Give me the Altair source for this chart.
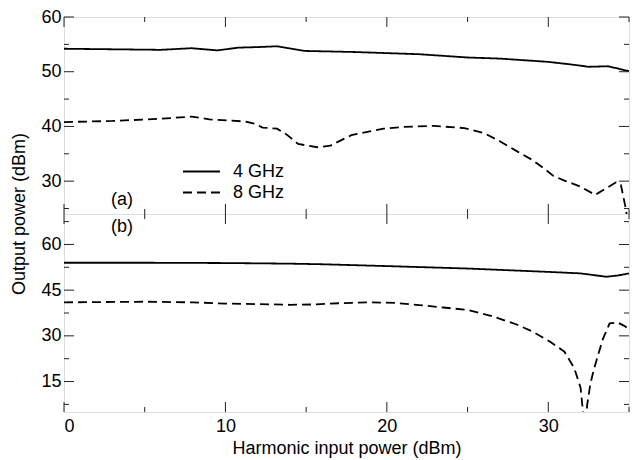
import altair as alt
import pandas as pd

# ---------------- data ----------------
a4_x = [0, 3, 6, 7.9, 9.5, 10.8, 12, 13.2, 14.9, 16.5, 18, 20, 22, 25, 27, 30, 31.5, 32.5, 33.7, 35]
a4_y = [54.2, 54.1, 54.0, 54.3, 53.9, 54.4, 54.5, 54.65, 53.8, 53.7, 53.6, 53.4, 53.2, 52.6, 52.4, 51.8, 51.3, 50.9, 51.0, 50.1]

a8_x = [0, 3, 6, 7.9, 9, 11.2, 11.8, 12.3, 13.2, 13.8, 14.5, 15.7, 16.5, 17.8, 19.8, 21, 22.9, 24.8, 26,
        27, 28.1, 29, 29.7, 30.3, 31, 32, 32.9, 33.6, 34.2, 34.5, 34.8, 34.95]
a8_y = [40.8, 41.0, 41.4, 41.8, 41.3, 40.9, 40.5, 39.8, 39.6, 38.5, 36.8, 36.2, 36.5, 38.4, 39.6, 39.9, 40.1, 39.7, 38.8,
        37.3, 35.4, 33.9, 32.4, 31.0, 30.1, 29.0, 27.5, 28.7, 29.8, 29.3, 25.0, 22.0]

b4_x = [0, 5, 10, 14, 16, 20, 25, 30, 32, 33.6, 34.3, 35]
b4_y = [54.0, 54.0, 53.9, 53.7, 53.5, 52.9, 52.1, 51.0, 50.5, 49.4, 49.8, 50.5]

b8_x = [0, 5, 8, 10, 12, 14, 15.5, 17, 19, 20.5, 22, 23.5, 25, 26.5, 28, 29, 30.1, 31.0, 31.6, 32.0, 32.15, 32.28,
        32.4, 32.6, 32.8, 33.1, 33.4, 33.8, 34.3, 34.8, 35]
b8_y = [41.0, 41.2, 41.0, 40.6, 40.4, 40.2, 40.3, 40.7, 41.0, 40.8, 40.1, 39.3, 38.5, 36.5, 33.8, 31.5, 28.1, 24.8, 19.5, 13.0, 5.0, -15.0,
        7.0, 14.0, 18.5, 24.0, 29.2, 34.1, 34.4, 33.0, 31.3]

series = ["4 GHz", "8 GHz"]

x_major = [0, 10, 20, 30]
x_minor = [5, 15, 25, 35]
ya_major = [30, 40, 50, 60]
ya_minor = [25, 35, 45, 55]
yb_major = [15, 30, 45, 60]
yb_minor = [7.5, 22.5, 37.5, 52.5, 67.5]

# ---------------- layout ----------------
W = 565
HA = 197
HB = 198
FONT = "Liberation Sans"
FRAME = "#222222"

xscale = alt.Scale(domain=[0, 35], nice=False, zero=False)
ya_scale = alt.Scale(domain=[24, 60], nice=False, zero=False)
yb_scale = alt.Scale(domain=[5, 70], nice=False, zero=False)

dash_scale = alt.Scale(domain=series, range=[[1, 0], [9, 5]])


def frame_df(xs, ys, s):
    return pd.DataFrame({"x": xs, "y": ys, "series": s, "order": range(len(xs))})


df_a = pd.concat([frame_df(a4_x, a4_y, series[0]), frame_df(a8_x, a8_y, series[1])])
df_b = pd.concat([frame_df(b4_x, b4_y, series[0]), frame_df(b8_x, b8_y, series[1])])


def yaxis(vals):
    return alt.Axis(values=vals, tickSize=0, domain=False, grid=False, labelFontSize=18, labelFont=FONT,
                    labelColor="black", labelPadding=3, title=None)


def xaxis_b():
    return alt.Axis(values=x_major, tickSize=0, domain=False, grid=False, labelFontSize=18,
                    labelFont=FONT, labelColor="black", labelPadding=5,
                    title="Harmonic input power (dBm)", titleFontSize=18, titleFont=FONT,
                    titleFontWeight="normal", titleColor="black", titlePadding=4)


def tick_layers(xax, yscale, yax, ymaj, ymin, H):
    layers = []
    for vals, L in ((x_major, 10), (x_minor, 5)):
        d = pd.DataFrame({"v": vals})
        base = alt.Chart(d).mark_rule(color=FRAME, strokeWidth=1)
        layers.append(base.encode(x=alt.X("v:Q", scale=xscale, axis=xax), y=alt.value(0), y2=alt.value(L)))
        layers.append(base.encode(x=alt.X("v:Q", scale=xscale, axis=xax), y=alt.value(H - L), y2=alt.value(H)))
    for vals, L in ((ymaj, 10), (ymin, 5)):
        d = pd.DataFrame({"v": vals})
        base = alt.Chart(d).mark_rule(color=FRAME, strokeWidth=1)
        layers.append(base.encode(y=alt.Y("v:Q", scale=yscale, axis=yax), x=alt.value(0), x2=alt.value(L)))
        layers.append(base.encode(y=alt.Y("v:Q", scale=yscale, axis=yax), x=alt.value(W - L), x2=alt.value(W)))
    return layers


# panel (a)
lines_a = alt.Chart(df_a).mark_line(color="black", strokeWidth=1.8, clip=True).encode(
    x=alt.X("x:Q", scale=xscale, axis=None),
    y=alt.Y("y:Q", scale=ya_scale, axis=yaxis(ya_major)),
    order="order:Q",
    strokeDash=alt.StrokeDash(
        "series:N", scale=dash_scale,
        legend=alt.Legend(orient="none", legendX=127, legendY=144, title=None,
                          symbolType="M-2,0L2,0", symbolSize=342, symbolStrokeWidth=2,
                          symbolStrokeColor="black", symbolFillColor="transparent",
                          labelFontSize=18, labelFont=FONT, labelColor="black", rowPadding=1,
                          labelOffset=21, padding=0),
    ),
)
label_a = alt.Chart(pd.DataFrame({"t": ["(a)"]})).mark_text(
    fontSize=18, font=FONT, color="black", align="center", baseline="middle"
).encode(text="t:N", x=alt.value(58), y=alt.value(183))

panel_a = alt.layer(lines_a, label_a, *tick_layers(None, ya_scale, yaxis(ya_major), ya_major, ya_minor, HA)).properties(
    width=W, height=HA
)

# panel (b)
lines_b = alt.Chart(df_b).mark_line(color="black", strokeWidth=1.8, clip=True).encode(
    x=alt.X("x:Q", scale=xscale, axis=xaxis_b()),
    y=alt.Y("y:Q", scale=yb_scale, axis=yaxis(yb_major)),
    order="order:Q",
    strokeDash=alt.StrokeDash("series:N", scale=dash_scale, legend=None),
)
label_b = alt.Chart(pd.DataFrame({"t": ["(b)"]})).mark_text(
    fontSize=18, font=FONT, color="black", align="center", baseline="middle"
).encode(text="t:N", x=alt.value(58), y=alt.value(13))
ytitle = alt.Chart(pd.DataFrame({"t": ["Output power (dBm)"]})).mark_text(
    fontSize=18, font=FONT, color="black", align="center", baseline="alphabetic", angle=270
).encode(text="t:N", x=alt.value(-39.5), y=alt.value(0))

panel_b = alt.layer(lines_b, label_b, ytitle,
                    *tick_layers(xaxis_b(), yb_scale, yaxis(yb_major), yb_major, yb_minor, HB)).properties(
    width=W, height=HB
)

chart = alt.vconcat(panel_a, panel_b, spacing=0, bounds="flush").properties(
    padding={"left": 1, "top": -1, "right": 1, "bottom": 5},
).configure_view(stroke=FRAME, strokeWidth=1).configure(background="white")

chart.save("out.html", embed_options={"renderer": "svg", "actions": False})
